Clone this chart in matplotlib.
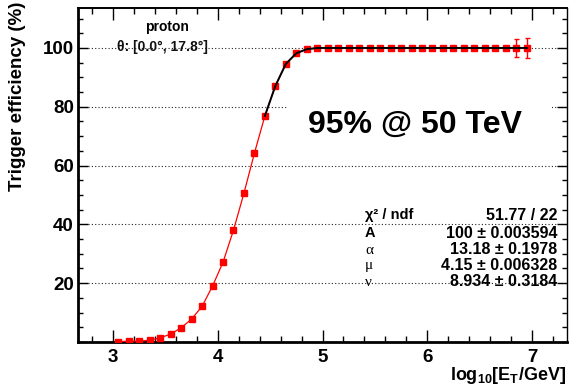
import matplotlib
matplotlib.use("Agg")
import matplotlib.pyplot as plt
from matplotlib.patches import Rectangle
from matplotlib.ticker import MultipleLocator

plt.rcParams['font.family'] = ['Liberation Sans', 'DejaVu Sans']
plt.rcParams['mathtext.fontset'] = 'custom'
plt.rcParams['mathtext.rm'] = 'Liberation Sans'
plt.rcParams['mathtext.bf'] = 'Liberation Sans:bold'
plt.rcParams['mathtext.it'] = 'Liberation Sans:italic'

# ---- data ----
log_e = [3.05, 3.15, 3.25, 3.35, 3.45, 3.55, 3.65, 3.75, 3.85, 3.95,
         4.05, 4.15, 4.25, 4.35, 4.45, 4.55, 4.65, 4.75, 4.85, 4.95,
         5.05, 5.15, 5.25, 5.35, 5.45, 5.55, 5.65, 5.75, 5.85, 5.95,
         6.05, 6.15, 6.25, 6.35, 6.45, 6.55, 6.65, 6.75, 6.85, 6.95]
efficiency = [0.1, 0.3, 0.3, 0.6, 1.4, 2.7, 4.8, 7.8, 12.1, 19.0,
              27.1, 38.0, 50.6, 64.2, 76.9, 87.1, 94.6, 98.2, 99.6, 100.0,
              100.0, 100.0, 100.0, 100.0, 100.0, 100.0, 100.0, 100.0, 100.0, 100.0,
              100.0, 100.0, 100.0, 100.0, 100.0, 100.0, 100.0, 100.0, 100.0, 100.0]
eff_err = [0.0] * 36 + [0.4, 0.6, 3.1, 3.5]
fit_start = 14  # index where fitted (black) curve begins

stats_labels = ['χ² / ndf', 'A', 'α', 'μ', 'ν']
stats_values = ['51.77 / 22', '100 ± 0.003594', '13.18 ± 0.1978',
                '4.15 ± 0.006328', '8.934 ± 0.3184']

W, H = 570, 391
fig = plt.figure(figsize=(W / 100, H / 100), dpi=100)
L, R, T, B = 78, 567, 8, 342
ax = fig.add_axes([L / W, 1 - B / H, (R - L) / W, (B - T) / H])
ax.set_xlim(2.666, 7.334)
ax.set_ylim(0, 113.6)

# grid
for gy in [20, 40, 60, 80, 100]:
    ax.axhline(gy, color='#222222', lw=0.8, ls=(0, (1, 2)), zorder=1)

# white pave behind big label
ax.add_patch(Rectangle(((288 - L) / (R - L), (B - 150) / (B - T)),
                       (552 - 288) / (R - L), 60 / (B - T),
                       transform=ax.transAxes, facecolor='white',
                       edgecolor='none', zorder=2))

ax.plot(log_e, efficiency, color='red', lw=0.9, zorder=3)
ax.errorbar(log_e, efficiency, yerr=eff_err, fmt='s', color='red', ms=4.6,
            mec='red', ecolor='red', elinewidth=1.0, capsize=1.8, capthick=1.0,
            zorder=4)
ax.plot(log_e[fit_start:], efficiency[fit_start:], color='black', lw=1.4, zorder=5)

# axes styling
for s in ['left', 'bottom']:
    ax.spines[s].set_linewidth(2.0)
ax.spines['top'].set_linewidth(1.4)
ax.spines['right'].set_linewidth(1.0)
ax.xaxis.set_major_locator(MultipleLocator(1))
ax.xaxis.set_minor_locator(MultipleLocator(0.2))
ax.yaxis.set_major_locator(MultipleLocator(20))
ax.yaxis.set_minor_locator(MultipleLocator(5))
ax.tick_params(axis='x', which='both', direction='in', top=True, bottom=True)
ax.tick_params(axis='y', which='both', direction='in', left=True, right=True)
ax.tick_params(axis='x', which='major', length=8.6, width=1.0, pad=5, labelsize=13.5)
ax.tick_params(axis='x', which='minor', length=4.3, width=1.0)
ax.tick_params(axis='y', which='major', length=7.2, width=1.0, pad=3, labelsize=13.5)
ax.tick_params(axis='y', which='minor', length=3.6, width=1.0)
ax.set_yticks([20, 40, 60, 80, 100])
for lab in ax.get_xticklabels() + ax.get_yticklabels():
    lab.set_fontweight('bold')

def fx(px):
    return px / W

def fy(py):
    return 1 - py / H

fig.text(fx(18), fy(2), 'Trigger efficiency (%)', rotation=90, ha='center',
         va='top', fontsize=13.5, fontweight='bold')
fig.text(fx(566), fy(376), r'log$_{\mathbf{10}}$[E$_{\mathbf{T}}$/GeV]', ha='right',
         va='center', fontsize=13, fontweight='bold')

fig.text(fx(167), fy(27), 'proton', ha='center', va='center', fontsize=10,
         fontweight='bold')
fig.text(fx(162), fy(47), 'θ: [0.0°, 17.8°]', ha='center', va='center',
         fontsize=10, fontweight='bold', color='#111111')

fig.text(fx(415), fy(125), '95% @ 50 TeV', ha='center', va='center',
         fontsize=23, fontweight='bold')

row_y = [215, 233, 250, 266, 282]
for lab, val, ry in zip(stats_labels, stats_values, row_y):
    if lab in ('α', 'μ', 'ν'):
        fig.text(fx(365), fy(ry), lab, ha='left', va='center', fontsize=11,
                 family=['Liberation Serif', 'DejaVu Serif'])
    else:
        fig.text(fx(365), fy(ry), lab, ha='left', va='center', fontsize=10.5,
                 fontweight='bold')
    fig.text(fx(557), fy(ry), val, ha='right', va='center', fontsize=11.5,
             fontweight='bold')

fig.savefig('out.png', dpi=100)
